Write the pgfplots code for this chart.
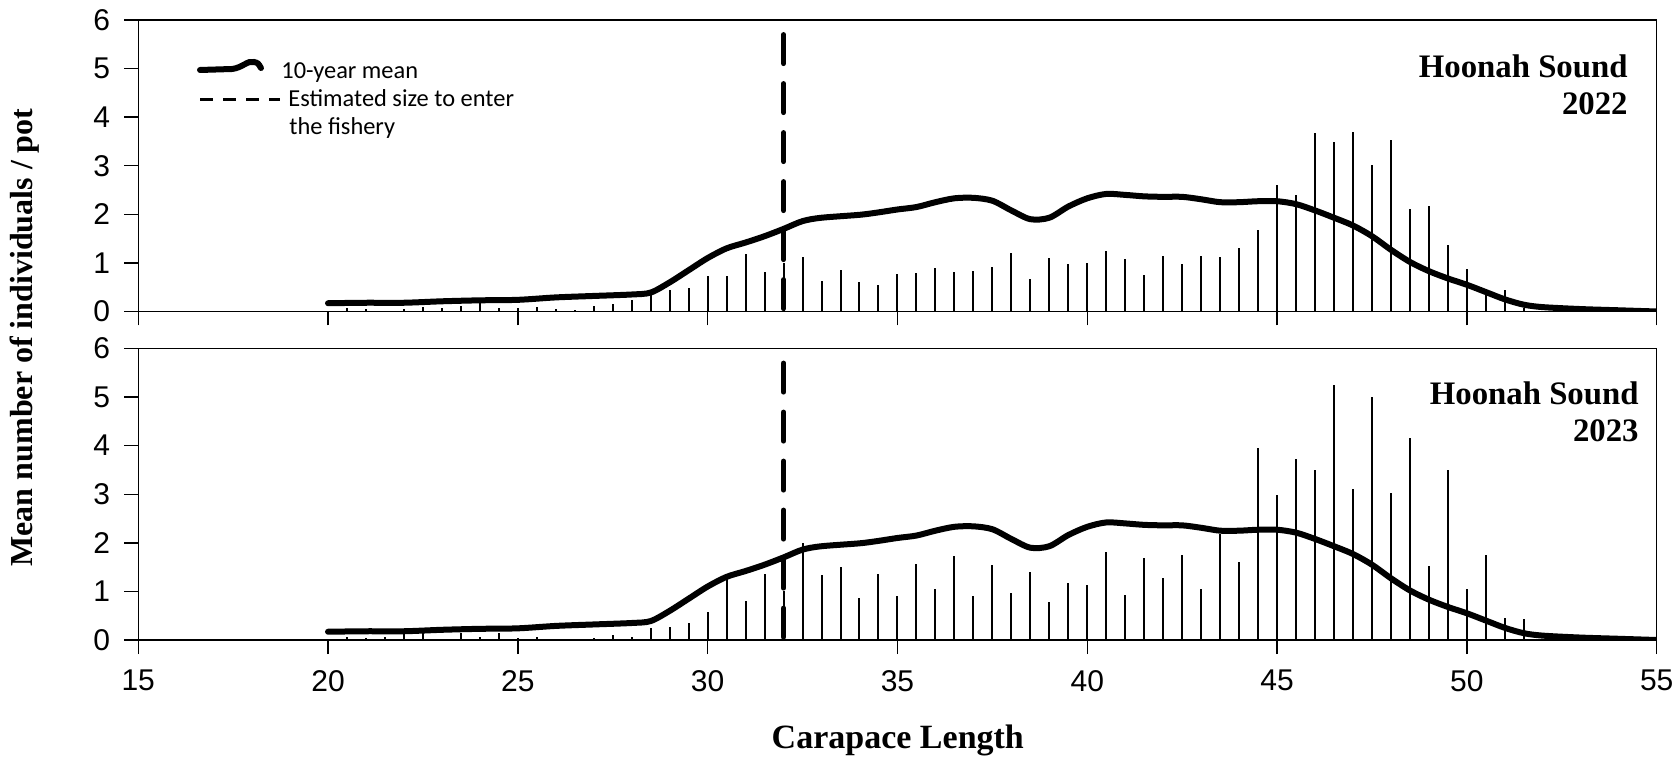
\documentclass[border=0pt]{standalone}
\usepackage{fontspec}
\setmainfont{Liberation Sans}
\newfontfamily\timesfont{Liberation Serif}
\newfontfamily\calibrifont{Carlito}
\usepackage{pgfplots}
\usepackage{pgfplotstable}
\pgfplotsset{compat=1.18}

% 10-year mean (same curve in both panels)
\pgfplotstableread{
x y
20 0.17
21 0.18
22 0.18
23 0.21
24 0.23
25 0.24
26 0.29
27 0.32
28 0.35
28.5 0.39
29 0.60
29.5 0.85
30 1.10
30.5 1.30
31 1.42
31.5 1.55
32 1.70
32.5 1.86
33 1.93
34 1.99
34.5 2.04
35 2.10
35.5 2.15
36 2.25
36.5 2.33
37 2.34
37.5 2.28
38 2.08
38.5 1.90
39 1.93
39.5 2.16
40 2.33
40.5 2.42
41 2.40
41.5 2.37
42 2.36
42.5 2.36
43 2.31
43.5 2.25
44 2.25
44.5 2.27
45 2.27
45.5 2.21
46 2.08
46.5 1.93
47 1.77
47.5 1.55
48 1.27
48.5 1.02
49 0.83
49.5 0.68
50 0.55
50.5 0.40
51 0.25
51.5 0.14
52 0.09
53 0.05
54 0.025
55 0.00
}\meanten

% 2022 catch per pot by 0.5 mm
\pgfplotstableread{
x y
20.5 0.08
21.0 0.06
22.0 0.06
22.5 0.10
23.0 0.08
23.5 0.12
24.0 0.17
24.5 0.08
25.0 0.07
25.5 0.10
26.0 0.06
26.5 0.04
27.0 0.11
27.5 0.15
28.0 0.24
28.5 0.34
29.0 0.44
29.5 0.49
30.0 0.73
30.5 0.73
31.0 1.18
31.5 0.82
32.0 1.00
32.5 1.13
33.0 0.63
33.5 0.86
34.0 0.60
34.5 0.54
35.0 0.77
35.5 0.79
36.0 0.89
36.5 0.81
37.0 0.84
37.5 0.91
38.0 1.21
38.5 0.67
39.0 1.11
39.5 0.98
40.0 1.00
40.5 1.25
41.0 1.08
41.5 0.76
42.0 1.15
42.5 0.97
43.0 1.15
43.5 1.12
44.0 1.30
44.5 1.68
45.0 2.61
45.5 2.39
46.0 3.67
46.5 3.49
47.0 3.70
47.5 3.01
48.0 3.53
48.5 2.11
49.0 2.17
49.5 1.37
50.0 0.87
50.5 0.47
51.0 0.45
51.5 0.07
}\catchtwo

% 2023
\pgfplotstableread{
x y
20.5 0.07
21.0 0.04
21.5 0.07
22.0 0.12
22.5 0.14
23.5 0.14
24.0 0.07
24.5 0.15
25.0 0.05
25.5 0.07
27.0 0.05
27.5 0.10
28.0 0.07
28.5 0.25
29.0 0.27
29.5 0.34
30.0 0.57
30.5 1.28
31.0 0.80
31.5 1.35
32.0 1.00
32.5 2.00
33.0 1.33
33.5 1.50
34.0 0.86
34.5 1.35
35.0 0.90
35.5 1.57
36.0 1.06
36.5 1.72
37.0 0.91
37.5 1.54
38.0 0.96
38.5 1.40
39.0 0.79
39.5 1.18
40.0 1.13
40.5 1.82
41.0 0.92
41.5 1.69
42.0 1.28
42.5 1.74
43.0 1.06
43.5 2.18
44.0 1.61
44.5 3.95
45.0 2.98
45.5 3.73
46.0 3.50
46.5 5.25
47.0 3.10
47.5 5.00
48.0 3.02
48.5 4.15
49.0 1.53
49.5 3.49
50.0 1.06
50.5 1.74
51.0 0.45
51.5 0.43
53.5 0.03
}\catchthree

\pgfplotsset{
  hoonah/.style={
    scale only axis,
    width=759.25pt, height=145.75pt,
    anchor=south west,
    xmin=15, xmax=55, ymin=0, ymax=6,
    xtick={15,20,...,55}, ytick={0,1,...,6},
    tick align=outside, tick pos=left,
    major tick length=7pt,
    axis line style={line width=0.7pt},
    tick style={line width=0.7pt, black},
    tick label style={font=\fontsize{15}{18}\selectfont},
    xticklabel style={yshift=-4.5pt},
    yticklabel style={xshift=-3.5pt},
    /pgf/number format/assume math mode=true,
  },
  catch/.style={ycomb, no marks, black, line width=1pt},
  mean/.style={smooth, tension=0.5, no marks, black, line width=3pt, line cap=round},
  cutoff/.style={no marks, black, line width=2.5pt, line cap=round,
    dash pattern=on 14.5pt off 10pt},
}

\begin{document}
\begin{tikzpicture}
\useasboundingbox (0,0) rectangle (839.5pt,380pt);

\begin{axis}[hoonah, at={(69.1pt,224.25pt)}, xticklabels={}]
  \addplot[catch] table {\catchtwo};
  \addplot[mean] table {\meanten};
  \addplot[cutoff] coordinates {(32,5.7) (32,0)};
\end{axis}

\begin{axis}[hoonah, at={(69.1pt,60pt)}]
  \addplot[catch] table {\catchthree};
  \addplot[mean] table {\meanten};
  \addplot[cutoff] coordinates {(32,5.7) (32,0)};
\end{axis}

% panel titles
\node[anchor=base east, inner sep=0pt, font=\timesfont\bfseries\fontsize{16.4}{20}\selectfont] at (814pt,341.3pt) {Hoonah Sound};
\node[anchor=base east, inner sep=0pt, font=\timesfont\bfseries\fontsize{16.4}{20}\selectfont] at (814pt,322.6pt) {2022};
\node[anchor=base east, inner sep=0pt, font=\timesfont\bfseries\fontsize{16.4}{20}\selectfont] at (819.5pt,177.5pt) {Hoonah Sound};
\node[anchor=base east, inner sep=0pt, font=\timesfont\bfseries\fontsize{16.4}{20}\selectfont] at (819.5pt,159pt) {2023};

% axis titles
\node[anchor=base, rotate=90, inner sep=0pt, font=\timesfont\bfseries\fontsize{16}{20}\selectfont] at (16.2pt,211.25pt) {Mean number of individuals / pot};
\node[anchor=base, inner sep=0pt, font=\timesfont\bfseries\fontsize{17}{20}\selectfont] at (448.9pt,5.85pt) {Carapace Length};

% legend
\draw[line width=3pt, line cap=round] (100pt,345pt) -- (116pt,345.5pt) .. controls (121pt,346pt) and (124pt,350pt) .. (127pt,349pt) .. controls (129pt,348.5pt) .. (130.5pt,346pt);
\draw[line width=1.5pt, dash pattern=on 6.7pt off 4.8pt] (100pt,330pt) -- (140pt,330pt);
\node[anchor=base west, inner sep=0pt, font=\calibrifont\fontsize{12.2}{15}\selectfont] at (140.5pt,340.5pt) {10-year mean};
\node[anchor=base west, inner sep=0pt, font=\calibrifont\fontsize{12.2}{15}\selectfont] at (144pt,326.5pt) {Estimated size to enter};
\node[anchor=base west, inner sep=0pt, font=\calibrifont\fontsize{12.2}{15}\selectfont] at (144.5pt,312.5pt) {the fishery};
\end{tikzpicture}
\end{document}
